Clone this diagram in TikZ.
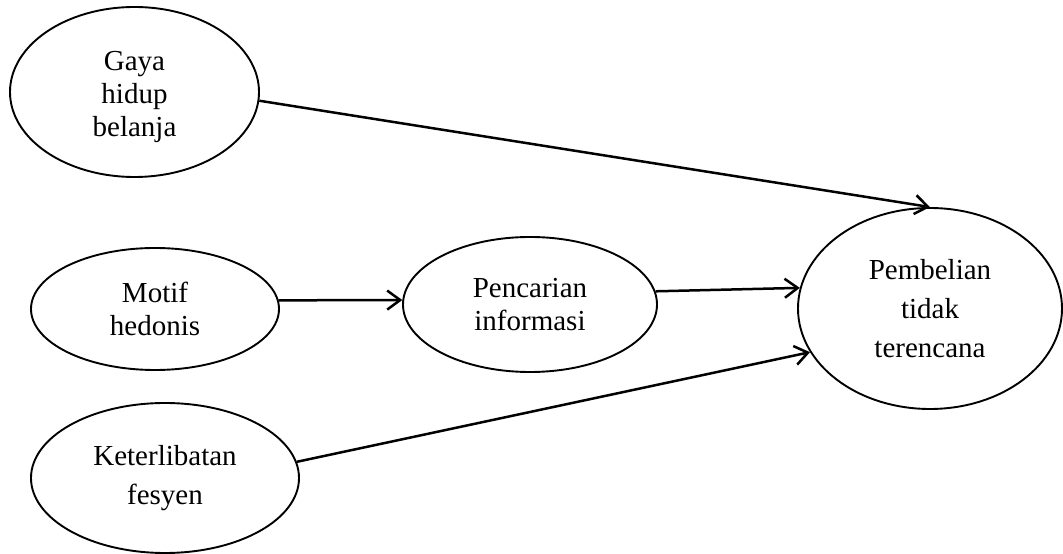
\documentclass[tikz,border=0pt]{standalone}
\usepackage{fontspec}
\setmainfont{Liberation Serif}
\usetikzlibrary{shapes.geometric,arrows.meta}
\tikzset{
  var/.style={draw, ellipse, line width=1.9pt, inner sep=0pt, align=center, font=\fontsize{29}{33}\selectfont},
  varwide/.style={var, font=\fontsize{29}{39}\selectfont},
  link/.style={line width=2.5pt, -{Straight Barb[length=13pt,width=19pt,line width=2.5pt]}}
}
\begin{document}
\begin{tikzpicture}[x=1pt,y=1pt]
\useasboundingbox (0,0) rectangle (1063,554);
\node[var, minimum width=249pt, minimum height=170pt] (g) at (134.5,462) {\rule{0pt}{30pt}Gaya\\hidup\\belanja};
\node[var, minimum width=248pt, minimum height=122pt] (m) at (155,245) {Motif\\hedonis};
\node[var, minimum width=254pt, minimum height=135pt] (p) at (530,249.5) {Pencarian\\informasi};
\node[varwide, minimum width=264pt, minimum height=201pt] (b) at (930,245.5) {Pembelian\\tidak\\terencana};
\node[varwide, minimum width=268pt, minimum height=150pt] (k) at (165,76) {Keterlibatan\\fesyen};
\draw[link] (g.356) -- (b.north);
\draw[link] (m.4) -- (p.178);
\draw[link] (p.6.7) -- (b.171.9);
\draw[link] (k.7.9) -- (b.200.8);
\end{tikzpicture}
\end{document}
